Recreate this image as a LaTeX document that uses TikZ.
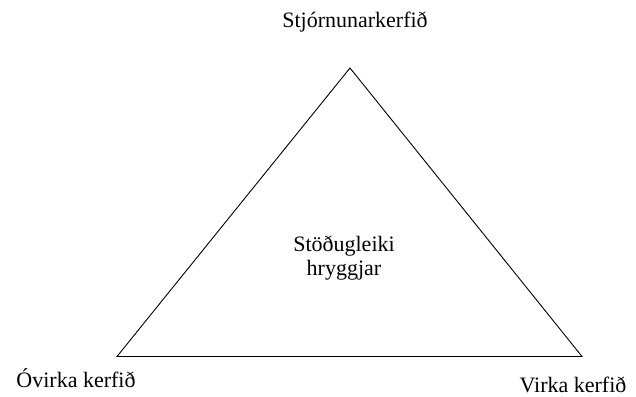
\documentclass[tikz,border=0pt]{standalone}
\usepackage{fontspec}
\setmainfont{Liberation Serif}
\begin{document}
\begin{tikzpicture}[x=1pt,y=1pt,
  lbl/.style={font=\rmfamily\fontsize{22}{23}\selectfont, inner sep=0pt, align=center, anchor=base},
  edge/.style={draw=black, line width=0.9pt}]
\useasboundingbox (0,0) rectangle (636,396);
\coordinate (top) at (350,328);
\coordinate (bl) at (117,39.5);
\coordinate (br) at (582,39.5);
\draw[edge] (top) -- (bl) -- (br) -- cycle;
\node[lbl] (t) at (355,368) {Stjórnunarkerfið};
\node[lbl] (l) at (76,9) {Óvirka kerfið};
\node[lbl] (r) at (573,4) {Virka kerfið};
\node[lbl] (c) at (344,121) {Stöðugleiki\\hryggjar};
\end{tikzpicture}
\end{document}
